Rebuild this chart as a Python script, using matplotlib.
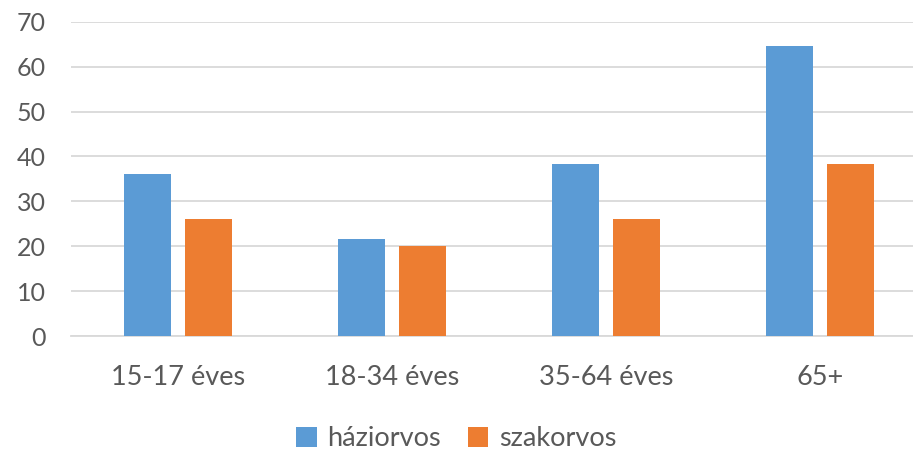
import numpy as np
import matplotlib.pyplot as plt

categories = ["15-17 éves", "18-34 éves", "35-64 éves", "65+"]
haziorvos = [36.0, 21.5, 38.4, 64.5]
szakorvos = [26.0, 20.0, 26.0, 38.3]

plt.rcParams['font.family'] = ['Lato', 'DejaVu Sans']

fig = plt.figure(figsize=(9.13, 4.51), dpi=100)
ax = fig.add_axes([71 / 913, 115 / 451, 842 / 913, 314.3 / 451])

x = np.arange(len(categories))
w = 0.224
off = 0.1425
ax.bar(x - off, haziorvos, w, color="#5B9BD5", label="háziorvos", zorder=3)
ax.bar(x + off, szakorvos, w, color="#ED7D31", label="szakorvos", zorder=3)

ax.set_xlim(-0.5, 3.5 - 14 / 214)
ax.set_ylim(0, 70)
ax.set_yticks(range(0, 71, 10))
ax.set_xticks(x)
ax.set_xticklabels(categories)

ax.grid(axis="y", color="#d9d9d9", linewidth=1.3, zorder=0)
for s in ["top", "right", "left"]:
    ax.spines[s].set_visible(False)
ax.spines["bottom"].set_color("#d9d9d9")
ax.spines["bottom"].set_linewidth(1.3)
ax.tick_params(axis="both", length=0, labelsize=18, labelcolor="#595959")
ax.tick_params(axis="x", labelsize=19.5, pad=21)
ax.tick_params(axis="y", pad=18)

fig.legend(loc="lower center", bbox_to_anchor=(0.5, -0.055), ncol=2, frameon=False,
           fontsize=19.5, labelcolor="#595959", handlelength=0.75, handleheight=0.75,
           handletextpad=0.4, columnspacing=1.0)

fig.savefig("out.png", dpi=100)
